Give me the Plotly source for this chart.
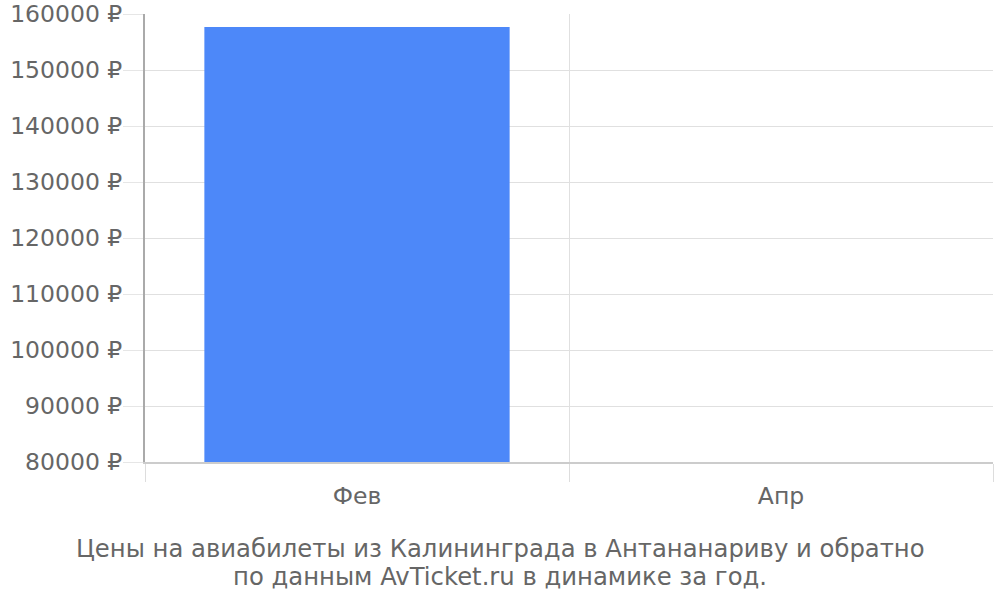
import plotly.graph_objects as go

months = ['Фев', 'Апр']
prices = [157700, 80000]

caption_lines = [
    'Цены на авиабилеты из Калининграда в Антананариву и обратно',
    'по данным AvTicket.ru в динамике за год.',
]

fig = go.Figure(
    go.Bar(
        x=months,
        y=prices,
        marker=dict(color='#4d88f9', line=dict(width=0)),
        hoverinfo='x+y',
    )
)

fig.update_layout(
    width=1000,
    height=600,
    margin=dict(l=145, r=7, t=14, b=138),
    paper_bgcolor='white',
    plot_bgcolor='white',
    bargap=0.28,
    showlegend=False,
    font=dict(family='DejaVu Sans', size=24, color='#666666'),
    xaxis=dict(
        type='category',
        automargin=False,
        tickson='boundaries',
        showgrid=True,
        gridcolor='#e0e0e0',
        ticks='outside',
        ticklen=18,
        tickcolor='#dddddd',
        ticklabelstandoff=12,
        showline=True,
        linecolor='#cccccc',
        linewidth=2,
        tickfont=dict(size=23.5, color='#666666'),
    ),
    yaxis=dict(
        range=[80000, 160020],
        automargin=False,
        dtick=10000,
        tickformat='d',
        ticksuffix=' ₽',
        showgrid=True,
        gridcolor='#e0e0e0',
        ticks='outside',
        ticklen=20,
        tickcolor='#e6e6e6',
        ticklabelstandoff=-4,
        ticklabeloverflow='allow',
        showline=True,
        linecolor='#aaaaaa',
        linewidth=2,
        zeroline=False,
        tickfont=dict(size=23.5, color='#666666'),
    ),
)

# caption under the chart, centred on the page (plot spans x 145..993)
for i, line in enumerate(caption_lines):
    fig.add_annotation(
        text=line,
        xref='paper',
        yref='paper',
        x=(500 - 145) / 848,
        y=-0.192 - i * 0.0625,
        xanchor='center',
        yanchor='middle',
        showarrow=False,
        font=dict(size=24.3, color='#666666'),
    )

# drop the default 8px body margin so the figure sits at the page corner
fig.write_html(
    'out.html',
    config={'displayModeBar': False},
    post_script="document.body.style.margin = '0';",
)
